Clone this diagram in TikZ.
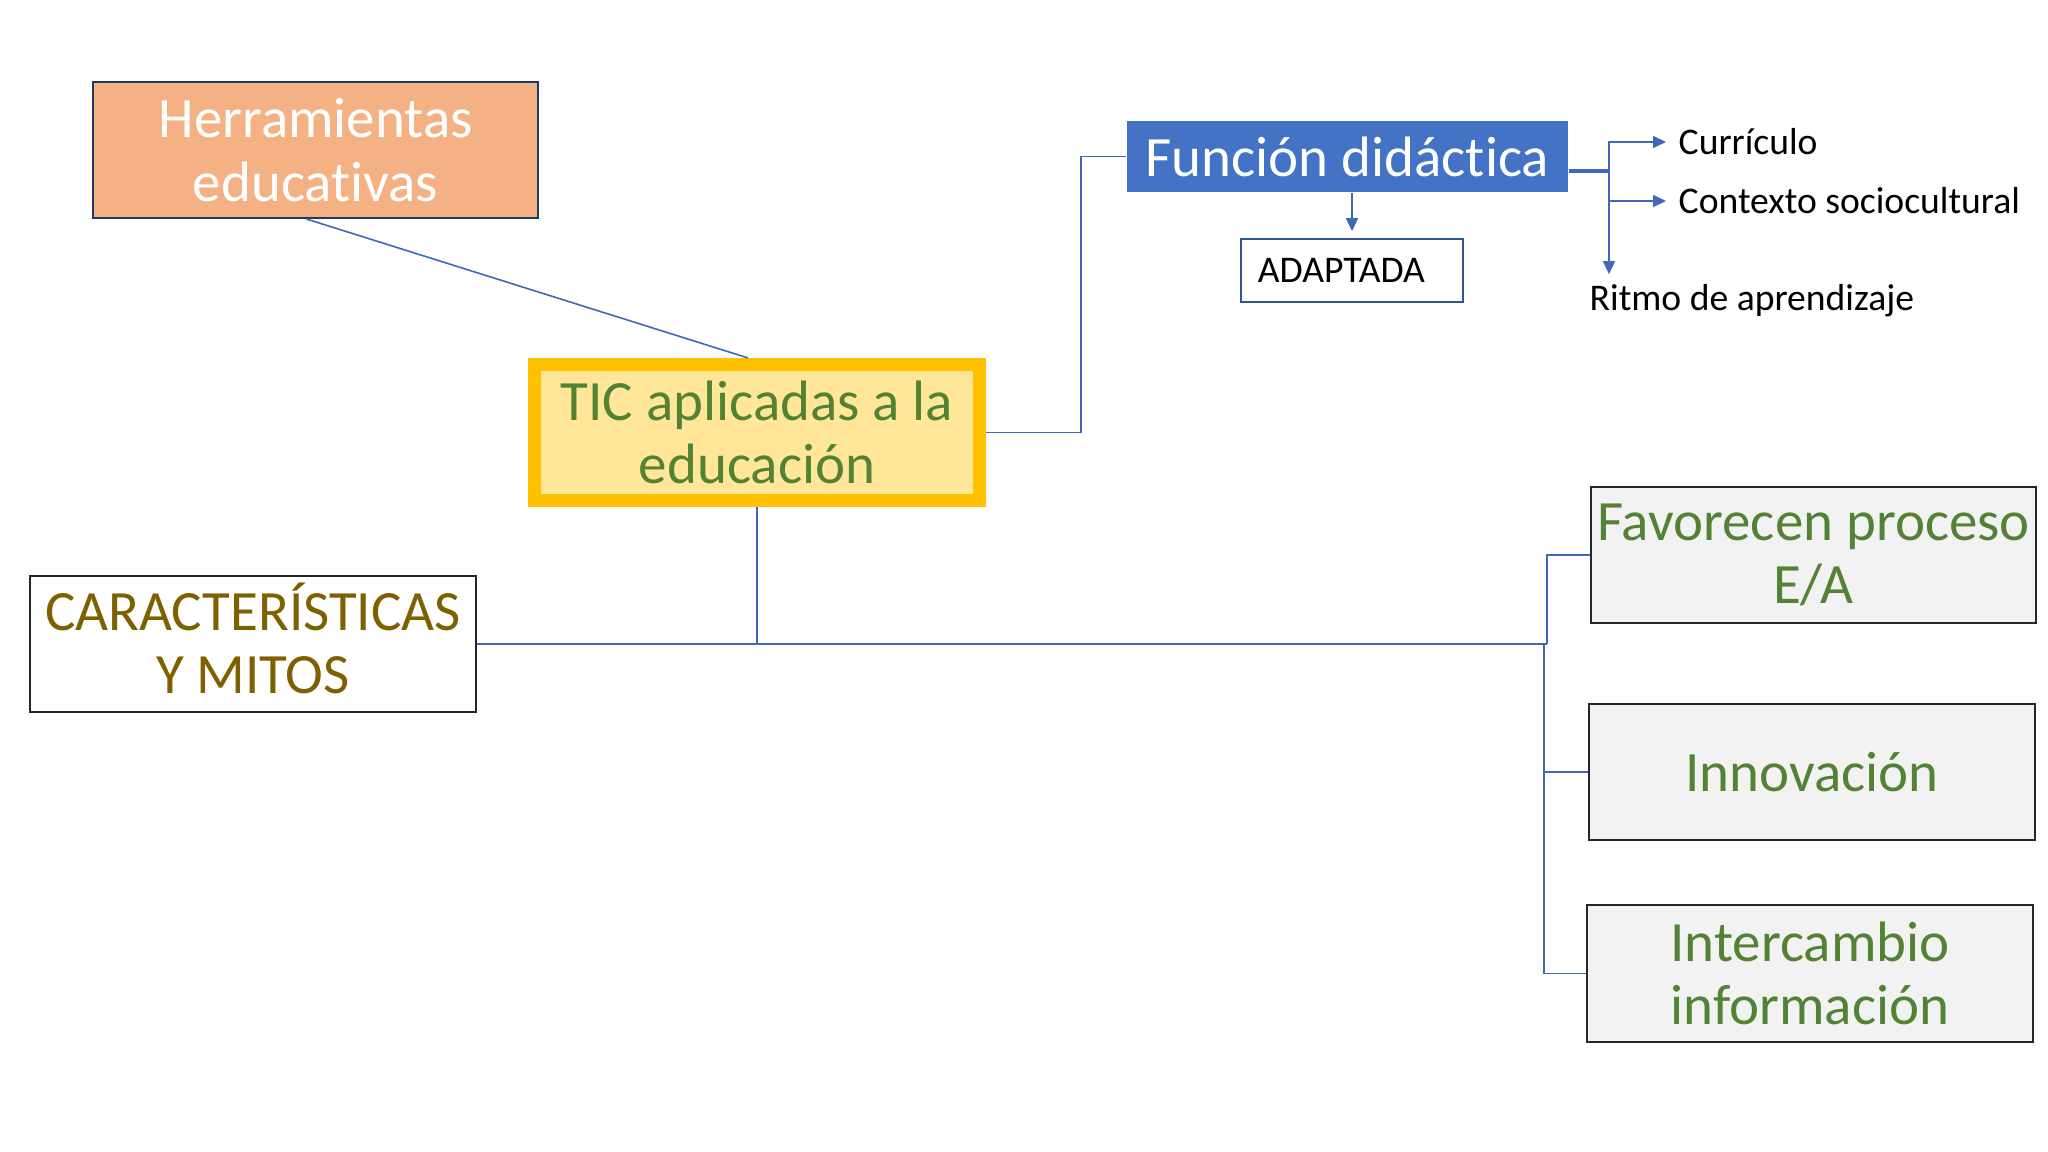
\documentclass[tikz,border=0pt]{standalone}
\usepackage{fontspec}
\setmainfont{Carlito}[Ligatures=NoCommon]
\usetikzlibrary{arrows.meta}
\definecolor{linkblue}{HTML}{4068B8}
\definecolor{herrfill}{HTML}{F4B183}
\definecolor{herrline}{HTML}{203864}
\definecolor{ticgold}{HTML}{FFC000}
\definecolor{ticfill}{HTML}{FFE699}
\definecolor{ticgreen}{HTML}{548235}
\definecolor{funcblue}{HTML}{4472C4}
\definecolor{adaptline}{HTML}{2F5597}
\definecolor{caracgold}{HTML}{7F6000}
\definecolor{boxgray}{HTML}{F2F2F2}
\definecolor{boxline}{HTML}{262626}
\begin{document}
\begin{tikzpicture}[x=0.01cm, y=-0.01cm,
    bigtext/.style={font=\fontsize{16.2}{18}\selectfont, align=center, inner sep=0},
    smalltext/.style={font=\fontsize{10.7}{12}\selectfont},
    bigbox/.style={bigtext, minimum width=4.45cm, minimum height=1.36cm},
    graybox/.style={bigbox, draw=boxline, fill=boxgray, line width=0.02cm, text=ticgreen},
    link/.style={draw=linkblue, line width=0.016cm},
    arrowlink/.style={link, -{Triangle[length=0.13cm,width=0.12cm]}}]
                \useasboundingbox [fill=white] (0,0) rectangle (2048,1152);

                % Box Herramientas
                \node [bigbox, draw=herrline, fill=herrfill, line width=0.02cm, text=white] (herr) at (315.5,150) {Herramientas\\educativas};%

                % Box TIC (centre of the map)
                \node [bigbox, draw=ticgold, fill=ticfill, line width=0.13cm, text=ticgreen] (tic) at (757,432.5) {TIC aplicadas a la\\educación};%

                % Box Funcion didactica
                \node [bigtext, fill=funcblue, text=white, minimum width=4.41cm, minimum height=0.71cm] (func) at (1347.5,156.5) {Función didáctica};%

                % Box ADAPTADA
                \node [smalltext, draw=adaptline, fill=white, line width=0.016cm, text width=1.88cm, align=left, inner xsep=0.17cm, minimum height=0.63cm] (adapt) at (1352,270.5) {ADAPTADA};%

                % Labels at the fork
                \node [smalltext, anchor=west, inner xsep=0.12cm] (curr) at (1666,142) {Currículo};%
                \node [smalltext, anchor=west, inner xsep=0.12cm] (ctx) at (1666,201) {Contexto sociocultural};%
                \node [smalltext, anchor=base west, inner xsep=0, inner ysep=0.1cm] (ritmo) at (1589,311) {Ritmo de aprendizaje};%

                % Box CARACTERISTICAS
                \node [bigbox, draw=boxline, fill=white, line width=0.02cm, text=caracgold] (carac) at (253,644) {\raisebox{0pt}[0.644em]{CARACTERÍSTICAS}\\Y MITOS};%

                % Boxes on the right
                \node [graybox] (fav) at (1813.5,555) {Favorecen proceso\\E/A};%
                \node [graybox] (innov) at (1812,772) {Innovación};%
                \node [graybox] (inter) at (1810,973.5) {Intercambio\\información};%

                % Drawing line Herramientas - TIC
                \draw [link] ([xshift=-0.09cm]herr.south) -- ([xshift=-0.09cm]tic.north);%

                % Drawing line TIC - Funcion
                \draw [link] (tic.east) -- ++(95,0) |- (func.west);%

                % Drawing arrow Funcion - ADAPTADA
                \draw [arrowlink, shorten >=0.07cm] (adapt.north |- func.south) -- (adapt.north);%

                % Drawing fork after Funcion
                \coordinate (fork) at (1609,171);
                \draw [link, line width=0.035cm] (func.east |- fork) -- (fork);%
                \draw [arrowlink] (fork) |- (curr.west);%
                \draw [arrowlink] (fork) |- (ctx.west);%
                \draw [arrowlink] (fork) -- (fork |- ritmo.north);%

                % Drawing trunk line
                \coordinate (busR) at (1547,644);
                \coordinate (busL) at (1544,644);
                \draw [link] (tic.south) -- (tic.south |- carac.east);%
                \draw [link] (carac.east) -- (busR);%
                \draw [link] (busR) |- (fav.west);%
                \draw [link] (busL) |- (innov.west);%
                \draw [link] (busL) |- (inter.west);%
\end{tikzpicture}
\end{document}
